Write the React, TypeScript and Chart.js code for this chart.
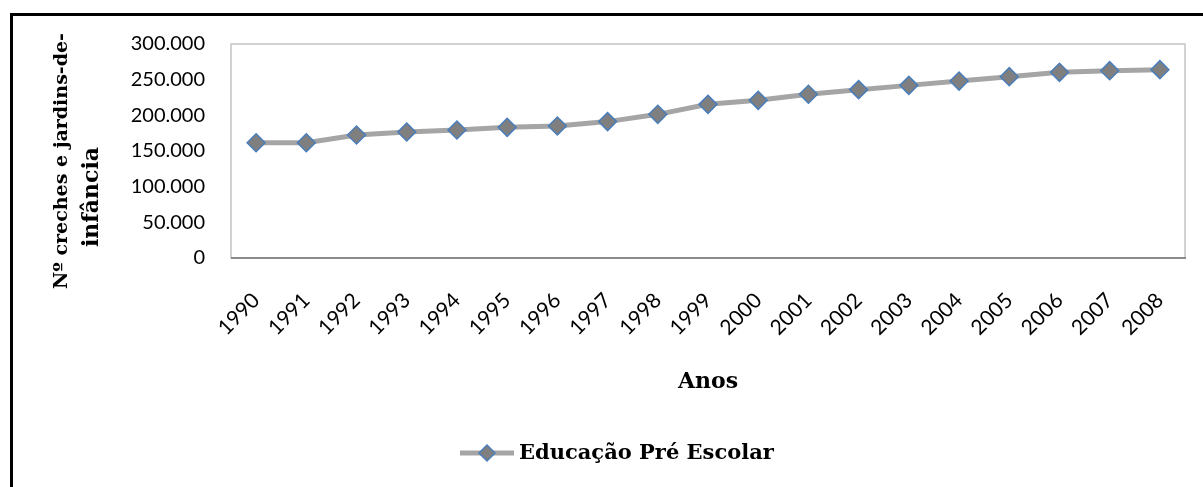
import React, { useEffect, useRef } from "react";
import { Chart, registerables } from "chart.js";

Chart.register(...registerables);

const years = ["1990", "1991", "1992", "1993", "1994", "1995", "1996", "1997", "1998", "1999", "2000", "2001", "2002", "2003", "2004", "2005", "2006", "2007", "2008"];
const preschool = [161600, 161600, 172400, 176600, 179400, 183200, 185000, 191200, 201400, 215400, 221000, 229500, 236000, 242000, 248000, 254200, 260300, 262600, 264000];
const seriesLabel = "Educação Pré Escolar";
const yTitleLines = ["Nº creches e jardins-de-", "infância"];
const xTitle = "Anos";
const yMin = 0;
const yMax = 300000;
const yStep = 50000;

const SERIF = '"DejaVu Serif", "Liberation Serif", serif';
const SANS = 'Lato, "Open Sans", sans-serif';

const LINE_COLOR = "#a5a5a5";
const MARKER_FILL = "#7f7f7f";
const MARKER_BORDER = "#4a7ebb";

const fmt = (v: number) => String(v).replace(/\B(?=(\d{3})+(?!\d))/g, ".");

export default function App() {
  const ref = useRef<HTMLCanvasElement>(null);

  useEffect(() => {
    const canvas = ref.current;
    if (!canvas) return;

    const framePlugin = {
      id: "frame",
      beforeDatasetsDraw(chart: any) {
        const { ctx, chartArea: a } = chart;
        ctx.save();
        ctx.strokeStyle = "#c4c4c4";
        ctx.lineWidth = 1.5;
        ctx.strokeRect(a.left, a.top, a.right - a.left, a.bottom - a.top);
        ctx.strokeStyle = "#8a8a8a";
        ctx.lineWidth = 2;
        ctx.beginPath();
        ctx.moveTo(a.left, a.bottom);
        ctx.lineTo(a.right + 1, a.bottom);
        ctx.stroke();
        ctx.restore();
      },
    };

    const yTitlePlugin = {
      id: "yTitle",
      afterDraw(chart: any) {
        const { ctx } = chart;
        ctx.save();
        ctx.fillStyle = "#000";
        ctx.textAlign = "center";
        ctx.textBaseline = "middle";
        const xs = [62, 92];
        const ys = [161, 197];
        const sizes = [19, 22];
        yTitleLines.forEach((line, i) => {
          ctx.save();
          ctx.font = `bold ${sizes[i]}px ${SERIF}`;
          ctx.translate(xs[i], ys[i]);
          ctx.rotate(-Math.PI / 2);
          ctx.fillText(line, 0, 0);
          ctx.restore();
        });
        ctx.restore();
      },
    };

    const legendPlugin = {
      id: "customLegend",
      afterDraw(chart: any) {
        const { ctx } = chart;
        const y = 453;
        ctx.save();
        ctx.strokeStyle = LINE_COLOR;
        ctx.lineWidth = 5;
        ctx.beginPath();
        ctx.moveTo(460, y);
        ctx.lineTo(514, y);
        ctx.stroke();
        ctx.beginPath();
        const cx = 487, r = 8;
        ctx.moveTo(cx - r, y);
        ctx.lineTo(cx, y - r);
        ctx.lineTo(cx + r, y);
        ctx.lineTo(cx, y + r);
        ctx.closePath();
        ctx.fillStyle = MARKER_FILL;
        ctx.fill();
        ctx.strokeStyle = MARKER_BORDER;
        ctx.lineWidth = 1.5;
        ctx.stroke();
        ctx.font = `bold 21px ${SERIF}`;
        ctx.fillStyle = "#000";
        ctx.textAlign = "left";
        ctx.textBaseline = "middle";
        ctx.fillText(seriesLabel, 519, y + 1);
        ctx.restore();
      },
    };

    const chart = new Chart(canvas, {
      type: "line",
      data: {
        labels: years,
        datasets: [
          {
            label: seriesLabel,
            data: preschool,
            borderColor: LINE_COLOR,
            borderWidth: 5,
            tension: 0,
            pointStyle: "rectRot",
            pointRadius: 9,
            pointHoverRadius: 9,
            pointBackgroundColor: MARKER_FILL,
            pointBorderColor: MARKER_BORDER,
            pointBorderWidth: 1.5,
          },
        ],
      },
      options: {
        responsive: false,
        animation: false,
        devicePixelRatio: 1,
        layout: { padding: { top: 44, right: 18, left: 0, bottom: 0 } },
        plugins: {
          legend: { display: false },
          tooltip: { enabled: false },
        },
        scales: {
          x: {
            type: "category",
            offset: true,
            grid: { display: false, drawTicks: false },
            border: { display: false },
            ticks: {
              autoSkip: false,
              minRotation: 45,
              maxRotation: 45,
              padding: 30,
              color: "#000",
              font: { family: SANS, size: 21 },
            },
            title: {
              display: true,
              text: xTitle,
              color: "#000",
              font: { family: SERIF, size: 22, weight: "bold" },
              padding: { top: 0, bottom: 92 },
            },
            afterFit(scale: any) {
              scale.height = 487 - 258;
              scale.paddingLeft = 0;
              scale.paddingRight = 0;
            },
          },
          y: {
            min: yMin,
            max: yMax,
            grid: { display: false, drawTicks: false },
            border: { display: false },
            ticks: {
              stepSize: yStep,
              padding: 26,
              color: "#000",
              font: { family: SANS, size: 20 },
              callback: (v: any) => fmt(Number(v)),
            },
            afterFit(scale: any) {
              scale.width = 231;
              scale.paddingTop = 0;
              scale.paddingBottom = 0;
            },
          },
        },
      },
      plugins: [framePlugin, yTitlePlugin, legendPlugin],
    } as any);

    return () => chart.destroy();
  }, []);

  return (
    <div style={{ position: "fixed", left: 0, top: 0, width: 1203, height: 487, overflow: "hidden", background: "#fff" }}>
      <canvas ref={ref} width={1203} height={487} style={{ position: "absolute", left: 0, top: 0, width: 1203, height: 487 }} />
      <div
        style={{
          position: "absolute",
          left: 10,
          top: 13,
          width: 1300,
          height: 600,
          borderTop: "3px solid #000",
          borderLeft: "3px solid #000",
          pointerEvents: "none",
        }}
      />
    </div>
  );
}
